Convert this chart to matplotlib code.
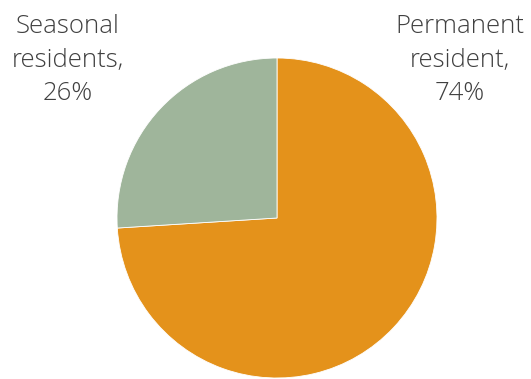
import matplotlib
matplotlib.use("Agg")
import matplotlib.pyplot as plt

# Share of residents by residency type
categories = ["Permanent\nresident", "Seasonal\nresidents"]
shares = [74, 26]
colors = ["#E4921B", "#9FB59B"]

W, H = 531, 379
fig = plt.figure(figsize=(W / 100, H / 100), dpi=100)
ax = fig.add_axes([0, 0, 1, 1])

cx, cy, r = 277, H - 218, 160
wedges, _ = ax.pie(
    shares,
    colors=colors,
    startangle=90,
    counterclock=False,
    center=(cx, cy),
    radius=r,
    frame=True,
    wedgeprops=dict(edgecolor="white", linewidth=0.6),
)
ax.set_xlim(0, W)
ax.set_ylim(0, H)
ax.axis("off")

font = dict(family=["Open Sans", "DejaVu Sans"], fontsize=18.5, fontweight="light",
            color="#404040", ha="center", va="center", linespacing=1.45)
labels = [f"{c},\n{v}%" for c, v in zip(categories, shares)]
ax.text(460, H - 60, labels[0], **font)
ax.text(68, H - 60, labels[1], **font)

fig.savefig("out.png", dpi=100)
